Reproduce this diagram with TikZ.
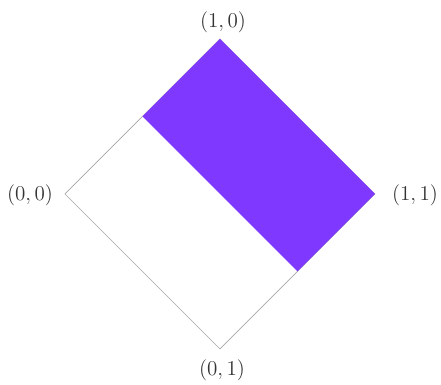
\documentclass[tikz,border=0pt]{standalone}
\usepackage{amsmath,amssymb}
\usepackage{xcolor}
\usetikzlibrary{calc}
\definecolor{regionviolet}{RGB}{127,56,255}

\begin{document}
\begin{tikzpicture}[x=0.02cm,y=-0.02cm,
    vlabel/.style={font=\fontsize{12.5pt}{15pt}\selectfont, text=black!80}]
  \useasboundingbox (0,0) rectangle (441,385);
  \coordinate (v00) at (65,194);
  \coordinate (v10) at (220,39);
  \coordinate (v11) at (375,194);
  \coordinate (v01) at (220,349);
  \draw [gray!70, line width=0.4pt]  (v00) -- (v10) -- (v11) -- (v01) -- cycle;
  \fill [regionviolet] (v10) -- (v11) -- ($(v11)!0.5!(v01)$) -- ($(v00)!0.5!(v10)$) -- cycle;
  \node [vlabel] (l00) at (30,195) {$(0,0)$};
  \node [vlabel] (l10) at (223,22) {$(1,0)$};
  \node [vlabel] (l11) at (415,195) {$(1,1)$};
  \node [vlabel] (l01) at (222,370) {$(0,1)$};
    \end{tikzpicture}
\end{document}
